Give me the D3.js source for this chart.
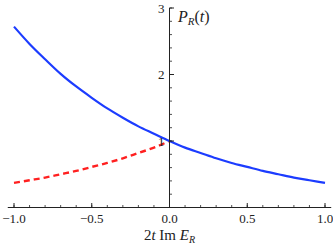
<!DOCTYPE html>
<html>
<head>
<meta charset="utf-8">
<script src="https://cdn.jsdelivr.net/npm/d3@7"></script>
<style>
  body { margin: 0; background: #fff; }
</style>
</head>
<body>
<div id="chart"></div>
<script>
// values
let xValues = [-1.0, -0.9, -0.8, -0.7, -0.6, -0.5, -0.4, -0.3, -0.2, -0.1, 0.0,
               0.1, 0.2, 0.3, 0.4, 0.5, 0.6, 0.7, 0.8, 0.9, 1.0];
let blueValues = [2.72, 2.46, 2.23, 2.01, 1.82, 1.65, 1.49, 1.35, 1.22, 1.11, 1.00,
                  0.90, 0.82, 0.74, 0.67, 0.61, 0.55, 0.50, 0.45, 0.41, 0.37];
let redX = [-1.0, -0.9, -0.8, -0.7, -0.6, -0.5, -0.4, -0.3, -0.2, -0.1, 0.0];
let redValues = [0.37, 0.41, 0.45, 0.50, 0.55, 0.61, 0.67, 0.74, 0.82, 0.90, 1.00];

let xTicks = [-1.0, -0.5, 0.0, 0.5, 1.0];
let xMinorTicks = d3.range(-10, 11).map(d => d / 10);
let yTicks = [1, 2, 3];
let yMinorTicks = d3.range(1, 16).map(d => d / 5);

let svgWidth = 333,
    svgHeight = 245;
let serif = "'Liberation Serif', 'Times New Roman', serif";

let svg = d3.select('#chart')
    .append('svg')
    .attr('width', svgWidth)
    .attr('height', svgHeight)
    .style('display', 'block');

let xScale = d3.scaleLinear().domain([-1, 1]).range([14, 325]);
let yScale = d3.scaleLinear().domain([0, 3]).range([207.5, 8]);

// curves
let line = d3.line()
    .x(d => xScale(d[0]))
    .y(d => yScale(d[1]))
    .curve(d3.curveMonotoneX);

svg.append('path')
    .datum(redX.map((x, i) => [x, redValues[i]]))
    .attr('d', line)
    .attr('fill', 'none')
    .attr('stroke', '#ff2020')
    .attr('stroke-width', 2.4)
    .attr('stroke-dasharray', '6,4');

svg.append('path')
    .datum(xValues.map((x, i) => [x, blueValues[i]]))
    .attr('d', line)
    .attr('fill', 'none')
    .attr('stroke', '#1c3cff')
    .attr('stroke-width', 2.2);

// x axis
let x0 = yScale(0);
svg.append('line')
    .attr('x1', xScale(-1.04)).attr('x2', xScale(1.04))
    .attr('y1', x0).attr('y2', x0)
    .attr('stroke', '#222').attr('stroke-width', 1);

svg.selectAll('.xminor')
    .data(xMinorTicks)
    .enter().append('line')
    .attr('x1', d => xScale(d)).attr('x2', d => xScale(d))
    .attr('y1', x0).attr('y2', x0 - 2.5)
    .attr('stroke', '#222').attr('stroke-width', 0.8);

svg.selectAll('.xmajor')
    .data(xTicks)
    .enter().append('line')
    .attr('x1', d => xScale(d)).attr('x2', d => xScale(d))
    .attr('y1', x0).attr('y2', x0 - 4.5)
    .attr('stroke', '#222').attr('stroke-width', 1);

svg.selectAll('.xlabel')
    .data(xTicks)
    .enter().append('text')
    .attr('x', d => xScale(d))
    .attr('y', x0 + 15)
    .attr('text-anchor', 'middle')
    .attr('font-family', serif)
    .attr('font-size', 13)
    .attr('fill', '#222')
    .text(d => d3.format('.1f')(d).replace('-', '\u2212'));

// y axis
let y0 = xScale(0);
svg.append('line')
    .attr('x1', y0).attr('x2', y0)
    .attr('y1', yScale(0)).attr('y2', yScale(3))
    .attr('stroke', '#222').attr('stroke-width', 1);

svg.selectAll('.yminor')
    .data(yMinorTicks)
    .enter().append('line')
    .attr('x1', y0).attr('x2', y0 + 2.5)
    .attr('y1', d => yScale(d)).attr('y2', d => yScale(d))
    .attr('stroke', '#222').attr('stroke-width', 0.8);

svg.selectAll('.ymajor')
    .data(yTicks)
    .enter().append('line')
    .attr('x1', y0).attr('x2', y0 + 4.5)
    .attr('y1', d => yScale(d)).attr('y2', d => yScale(d))
    .attr('stroke', '#222').attr('stroke-width', 1);

svg.selectAll('.ylabel')
    .data(yTicks)
    .enter().append('text')
    .attr('x', y0 - 5)
    .attr('y', d => yScale(d) + 4.5)
    .attr('text-anchor', 'end')
    .attr('font-family', serif)
    .attr('font-size', 13)
    .attr('fill', '#222')
    .text(d => d);

// axis titles
let yTitle = svg.append('text')
    .attr('x', 178)
    .attr('y', 22)
    .attr('font-family', serif)
    .attr('font-size', 16)
    .attr('fill', '#222');
yTitle.append('tspan').attr('font-style', 'italic').text('P');
yTitle.append('tspan').attr('font-style', 'italic').attr('font-size', 11).attr('dy', 3).text('R');
yTitle.append('tspan').attr('dy', -3).text('(');
yTitle.append('tspan').attr('font-style', 'italic').text('t');
yTitle.append('tspan').text(')');

let xTitle = svg.append('text')
    .attr('x', y0)
    .attr('y', 240)
    .attr('text-anchor', 'middle')
    .attr('font-family', serif)
    .attr('font-size', 15)
    .attr('fill', '#222');
xTitle.append('tspan').text('2');
xTitle.append('tspan').attr('font-style', 'italic').text('t');
xTitle.append('tspan').text(' Im ');
xTitle.append('tspan').attr('font-style', 'italic').text('E');
xTitle.append('tspan').attr('font-style', 'italic').attr('font-size', 10).attr('dy', 3).text('R');
</script>
</body>
</html>
